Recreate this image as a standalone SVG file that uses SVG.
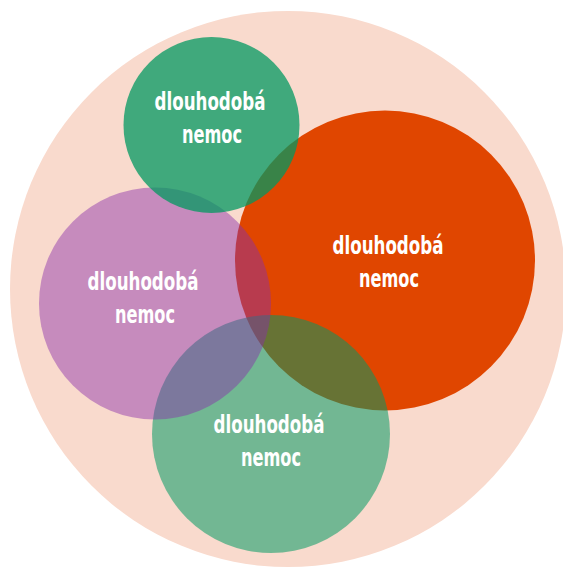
<svg xmlns="http://www.w3.org/2000/svg" width="563" height="570" viewBox="0 0 563 570">
  <style>
    .lbl { font-family: "Liberation Sans Narrow", "DejaVu Sans Condensed", "Liberation Sans", sans-serif; font-weight: bold; font-size: 24px; fill: #ffffff; text-anchor: middle; }
  </style>
  <rect width="563" height="570" fill="#ffffff"/>
  <g id="background">
    <circle cx="288" cy="289" r="278" fill="#f9dacd"/>
  </g>
  <g id="orange">
    <circle cx="385" cy="260.5" r="150" fill="#e04600"/>
  </g>
  <g id="green-bottom">
    <circle cx="271" cy="434" r="119" fill="#009a62" fill-opacity="0.54"/>
  </g>
  <g id="purple">
    <circle cx="155" cy="303.5" r="116" fill="#892ea9" fill-opacity="0.46"/>
  </g>
  <g id="green-top">
    <circle cx="211.5" cy="125" r="88" fill="#019860" fill-opacity="0.75"/>
  </g>
  <g id="labels">
    <text class="lbl" x="210" y="110" textLength="111" lengthAdjust="spacingAndGlyphs">dlouhodobá</text>
    <text class="lbl" x="212" y="143" textLength="60" lengthAdjust="spacingAndGlyphs">nemoc</text>
    <text class="lbl" x="388" y="254" textLength="111" lengthAdjust="spacingAndGlyphs">dlouhodobá</text>
    <text class="lbl" x="389" y="287" textLength="60" lengthAdjust="spacingAndGlyphs">nemoc</text>
    <text class="lbl" x="143" y="290" textLength="111" lengthAdjust="spacingAndGlyphs">dlouhodobá</text>
    <text class="lbl" x="145" y="323" textLength="60" lengthAdjust="spacingAndGlyphs">nemoc</text>
    <text class="lbl" x="269" y="433" textLength="111" lengthAdjust="spacingAndGlyphs">dlouhodobá</text>
    <text class="lbl" x="271" y="466" textLength="60" lengthAdjust="spacingAndGlyphs">nemoc</text>
  </g>
</svg>
